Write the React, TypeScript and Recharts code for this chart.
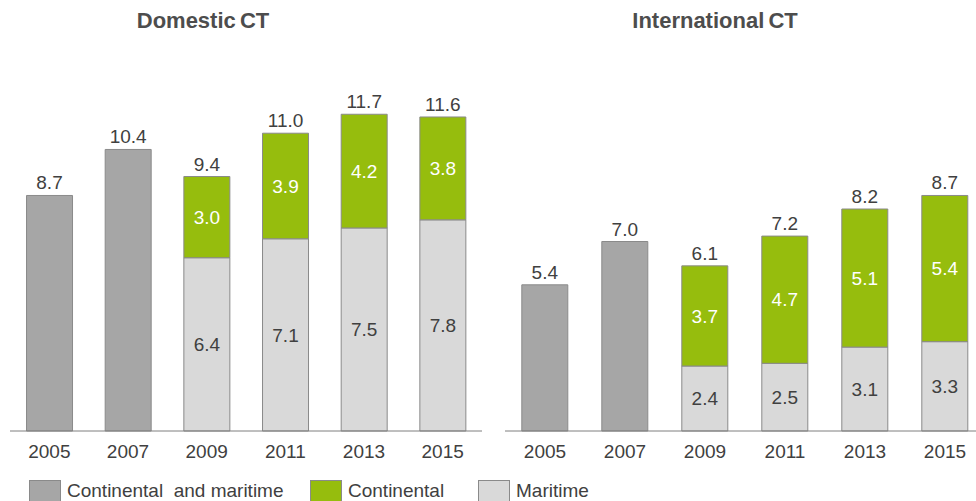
import { Bar, BarChart, LabelList, XAxis, YAxis } from "recharts";

const years = ["2005", "2007", "2009", "2011", "2013", "2015"];

const domesticBoth = [8.7, 10.4, null, null, null, null];
const domesticMaritime = [null, null, 6.4, 7.1, 7.5, 7.8];
const domesticContinental = [null, null, 3.0, 3.9, 4.2, 3.8];
const domesticTotal = [null, null, 9.4, 11.0, 11.7, 11.6];

const intlBoth = [5.4, 7.0, null, null, null, null];
const intlMaritime = [null, null, 2.4, 2.5, 3.1, 3.3];
const intlContinental = [null, null, 3.7, 4.7, 5.1, 5.4];
const intlTotal = [null, null, 6.1, 7.2, 8.2, 8.7];

const legendItems = [
  { label: "Continental  and maritime", color: "#a6a6a6" },
  { label: "Continental", color: "#96bd0d" },
  { label: "Maritime", color: "#d9d9d9" },
];

const TEXT = "#404040";
const FONT = "'Liberation Sans', Arial, sans-serif";

const build = (both: any[], mar: any[], cont: any[], tot: any[]) =>
  years.map((y, i) => ({ year: y, both: both[i], maritime: mar[i], continental: cont[i], total: tot[i] }));

const domesticData = build(domesticBoth, domesticMaritime, domesticContinental, domesticTotal);
const intlData = build(intlBoth, intlMaritime, intlContinental, intlTotal);

const fmt = (v: any) => (v == null ? "" : Number(v).toFixed(1));

function Panel({ data, width, margin }: { data: any[]; width: number; margin: any }) {
  return (
    <BarChart width={width} height={501} data={data} margin={margin} barCategoryGap="21%">
      <XAxis
        dataKey="year"
        height={30}
        tickLine={false}
        axisLine={{ stroke: "#7f7f7f", strokeWidth: 1 }}
        tick={{ fontSize: 19, fill: TEXT, fontFamily: FONT }}
        dy={6}
      />
      <YAxis hide domain={[0, 14]} />
      <Bar dataKey="both" stackId="a" fill="#a6a6a6" stroke="#8a8a8a" isAnimationActive={false}>
        <LabelList dataKey="both" position="top" offset={6} formatter={fmt} fill={TEXT} fontSize={19} fontFamily={FONT} />
      </Bar>
      <Bar dataKey="maritime" stackId="a" fill="#d9d9d9" stroke="#8a8a8a" isAnimationActive={false}>
        <LabelList dataKey="maritime" position="center" formatter={fmt} fill={TEXT} fontSize={19} fontFamily={FONT} />
      </Bar>
      <Bar dataKey="continental" stackId="a" fill="#96bd0d" stroke="#8a8a8a" isAnimationActive={false}>
        <LabelList dataKey="continental" position="center" formatter={fmt} fill="#ffffff" fontSize={19} fontFamily={FONT} />
        <LabelList dataKey="total" position="top" offset={6} formatter={fmt} fill={TEXT} fontSize={19} fontFamily={FONT} />
      </Bar>
    </BarChart>
  );
}

export default function App() {
  return (
    <div
      style={{
        position: "fixed",
        left: 0,
        top: 0,
        width: 976,
        height: 501,
        overflow: "hidden",
        background: "#fff",
        fontFamily: FONT,
      }}
    >
      <div style={{ position: "absolute", left: 0, top: 0 }}>
        <Panel data={domesticData} width={490} margin={{ top: 52, right: 8, left: 10, bottom: 40 }} />
      </div>
      <div style={{ position: "absolute", left: 490, top: 0 }}>
        <Panel data={intlData} width={500} margin={{ top: 52, right: 5, left: 15, bottom: 40 }} />
      </div>
      <div style={{ position: "absolute", left: 103, top: 8, width: 200, textAlign: "center", fontSize: 22, fontWeight: "bold", color: "#4d4d4d", wordSpacing: -2 }}>
        Domestic CT
      </div>
      <div style={{ position: "absolute", left: 615, top: 8, width: 200, textAlign: "center", fontSize: 22, fontWeight: "bold", color: "#4d4d4d", wordSpacing: -2 }}>
        International CT
      </div>
      {legendItems.map((it, i) => {
        const lefts = [29, 310, 478];
        return (
          <div key={it.label} style={{ position: "absolute", left: lefts[i], top: 480, display: "flex", alignItems: "center" }}>
            <div style={{ width: 30, height: 20, background: it.color, border: "1px solid #8a8a8a" }} />
            <span style={{ marginLeft: 6, fontSize: 19, color: TEXT, whiteSpace: "pre" }}>{it.label}</span>
          </div>
        );
      })}
    </div>
  );
}
